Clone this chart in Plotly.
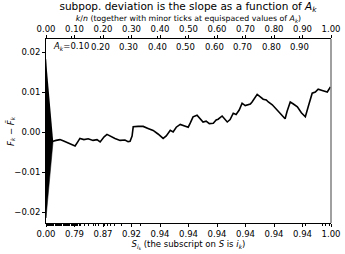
import plotly.graph_objects as go

# ---- data ----
curve_x = [0.014, 0.025, 0.035, 0.049, 0.060, 0.070, 0.084, 0.095, 0.102, 0.112,
           0.119, 0.133, 0.148, 0.165, 0.179, 0.190, 0.204, 0.214, 0.228, 0.242,
           0.260, 0.277, 0.288, 0.295, 0.302, 0.306, 0.323, 0.341, 0.358, 0.376,
           0.393, 0.411, 0.422, 0.436, 0.446, 0.457, 0.471, 0.485, 0.499, 0.506,
           0.516, 0.530, 0.541, 0.551, 0.562, 0.573, 0.587, 0.597, 0.604, 0.611,
           0.618, 0.636, 0.646, 0.657, 0.667, 0.678, 0.688, 0.699, 0.706, 0.717,
           0.723, 0.734, 0.741, 0.752, 0.762, 0.773, 0.780, 0.794, 0.804, 0.815,
           0.825, 0.839, 0.846, 0.857, 0.868, 0.882, 0.896, 0.910, 0.920, 0.927,
           0.934, 0.945, 0.955, 0.969, 0.987, 0.998]
curve_y = [-0.0022, -0.0023, -0.0021, -0.0019, -0.0022, -0.0025, -0.0028, -0.0031, -0.0035, -0.0024,
           -0.0016, -0.0019, -0.0017, -0.0021, -0.0019, -0.0025, -0.0012, -0.0006, -0.0012, -0.0016,
           -0.0021, -0.0020, -0.0024, -0.0023, -0.0010, 0.0013, 0.0014, 0.0014, 0.0009, 0.0004,
           -0.0005, -0.0016, -0.0010, 0.0004, 0.0000, 0.0012, 0.0019, 0.0015, 0.0012, 0.0022,
           0.0038, 0.0042, 0.0034, 0.0025, 0.0027, 0.0021, 0.0022, 0.0030, 0.0032, 0.0036,
           0.0040, 0.0025, 0.0031, 0.0047, 0.0044, 0.0055, 0.0072, 0.0066, 0.0067, 0.0070,
           0.0075, 0.0085, 0.0094, 0.0088, 0.0082, 0.0080, 0.0075, 0.0068, 0.0060, 0.0054,
           0.0045, 0.0033, 0.0052, 0.0075, 0.0070, 0.0063, 0.0048, 0.0038, 0.0063, 0.0080,
           0.0097, 0.0100, 0.0107, 0.0104, 0.0100, 0.0113]

triangle_x = [0.0, 0.0, 0.025]
triangle_y = [0.0182, -0.0215, -0.0022]

major_pos = [0.0, 0.1, 0.2, 0.3, 0.4, 0.5, 0.6, 0.7, 0.8, 0.9, 1.0]
top_labels = ["0.00", "0.10", "0.20", "0.30", "0.40", "0.50", "0.60", "0.70", "0.80", "0.90", "1.00"]
bottom_labels = ["0.00", "0.79", "0.87", "0.92", "0.94", "0.94", "0.94", "0.94", "0.94", "0.94", "1.00"]

ak_pos = [0.09, 0.19, 0.29, 0.39, 0.49, 0.59, 0.69, 0.79, 0.89]
ak_labels = ["<i>A</i><sub><i>k</i></sub>=0.10", "0.20", "0.30", "0.40", "0.50",
             "0.60", "0.70", "0.80", "0.90"]

bottom_minor = [0.000, 0.004, 0.008, 0.012, 0.016, 0.020, 0.024, 0.028, 0.032, 0.036,
                0.040, 0.044, 0.048, 0.052, 0.056, 0.060, 0.064, 0.068, 0.072, 0.076,
                0.080, 0.084, 0.088, 0.092, 0.096, 0.100, 0.104, 0.108, 0.112, 0.116,
                0.120, 0.135, 0.150, 0.165, 0.175, 0.185, 0.205, 0.215, 0.225, 0.240,
                0.265, 0.300, 0.330, 0.900, 0.910, 0.970, 0.980, 0.995]

y_ticks = [-0.02, -0.01, 0.0, 0.01, 0.02]
y_labels = ["\u22120.02", "\u22120.01", "0.00", "0.01", "0.02"]

FONT = "DejaVu Sans"
TICK = 8.5

fig = go.Figure()
fig.add_trace(go.Scatter(x=triangle_x, y=triangle_y, fill="toself", mode="lines",
                         line=dict(color="black", width=0.5), fillcolor="black",
                         hoverinfo="skip", showlegend=False))
fig.add_trace(go.Scatter(x=curve_x, y=curve_y, mode="lines",
                         line=dict(color="black", width=1.6), showlegend=False))
fig.add_trace(go.Scatter(x=[0, 1], y=[0, 0], xaxis="x2", mode="lines",
                         line=dict(width=0), hoverinfo="skip", showlegend=False))

for p, t in zip(ak_pos, ak_labels):
    first = p == ak_pos[0]
    fig.add_annotation(x=p, y=0.0213, text=t, showarrow=False, xref="x", yref="y",
                       xanchor="right" if first else "center",
                       xshift=19 if first else 0,
                       font=dict(family=FONT, size=TICK, color="black"))

# y-axis title
fig.add_annotation(x=0, y=0.5, xref="paper", yref="paper", xshift=-36,
                   text="<i>F</i><sub><i>k</i></sub> \u2212 <i>F\u0303</i><sub><i>k</i></sub>",
                   textangle=-90, showarrow=False, xanchor="center", yanchor="middle",
                   font=dict(family=FONT, size=TICK, color="black"))

fig.add_shape(type="line", xref="paper", yref="paper", x0=1, x1=1, y0=0, y1=1,
              line=dict(color="#808080", width=1.5))

fig.update_layout(
    width=345, height=254,
    margin=dict(l=46, r=14, t=39, b=31, autoexpand=False),
    paper_bgcolor="white", plot_bgcolor="white",
    font=dict(family=FONT, size=TICK, color="black"),
    title=dict(text="subpop. deviation is the slope as a function of <i>A</i><sub><i>k</i></sub>",
               x=0.545, xanchor="center", y=0.99, yanchor="top",
               font=dict(family=FONT, size=10.5, color="black")),
    xaxis=dict(range=[0, 1], tickmode="array", tickvals=major_pos, ticktext=bottom_labels,
               ticks="outside", ticklen=3, tickwidth=0.8, tickcolor="black",
               showline=True, linecolor="black", linewidth=0.8, showgrid=False,
               zeroline=False, automargin=False,
               minor=dict(tickmode="array", tickvals=bottom_minor, ticks="outside",
                          ticklen=2, tickwidth=0.8, tickcolor="black", showgrid=False),
               title=dict(text="<i>S</i><sub><i>i</i><sub><i>k</i></sub></sub> (the subscript on <i>S</i> is <i>i</i><sub><i>k</i></sub>)",
                          standoff=2, font=dict(family=FONT, size=TICK))),
    xaxis2=dict(range=[0, 1], overlaying="x", side="top", tickmode="array",
                tickvals=major_pos, ticktext=top_labels,
                ticks="outside", ticklen=3, tickwidth=0.8, tickcolor="black",
                showline=True, linecolor="black", linewidth=0.8, showgrid=False,
                zeroline=False, automargin=False,
                minor=dict(tickmode="array", tickvals=ak_pos, ticks="outside",
                           ticklen=2, tickwidth=0.8, tickcolor="black", showgrid=False),
                title=dict(text="<i>k</i>/<i>n</i> (together with minor ticks at equispaced values of <i>A</i><sub><i>k</i></sub>)",
                           standoff=0, font=dict(family=FONT, size=7.8))),
    yaxis=dict(range=[-0.02275, 0.02325], tickmode="array", tickvals=y_ticks, ticktext=y_labels,
               ticks="outside", ticklen=3, tickwidth=0.8, tickcolor="black",
               showline=True, linecolor="black", linewidth=0.8, showgrid=False,
               zeroline=False, automargin=False),
)

fig.write_html("out.html", config={"displayModeBar": False},
               post_script="document.body.style.margin='0';document.body.style.padding='0';")
